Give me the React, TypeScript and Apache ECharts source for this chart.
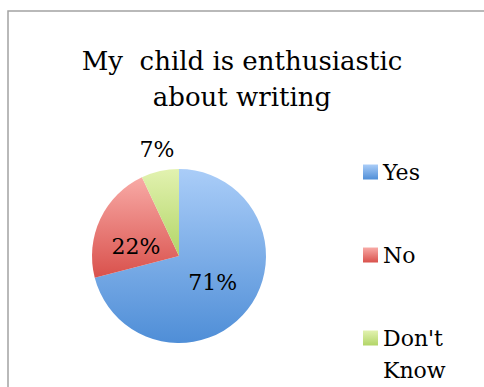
import React, { useEffect, useRef } from "react";
import * as echarts from "echarts";

const titleLines = ["My  child is enthusiastic", "about writing"];
const categories = ["Yes", "No", "Don't Know"];
const values = [71, 22, 7];
const topColors = ["#aacdf8", "#f8aaa6", "#e2f2b0"];
const bottomColors = ["#4f8ed7", "#d9514c", "#b2d567"];

const FONT = "DejaVu Serif";

const legendBase = {
  orient: "vertical",
  left: 358,
  height: 320,
  itemWidth: 15,
  itemHeight: 15,
  itemGap: 51,
  icon: "rect",
  textStyle: { fontFamily: FONT, fontSize: 22, color: "#000", lineHeight: 32 },
};

export default function App() {
  const ref = useRef<HTMLDivElement>(null);
  useEffect(() => {
    if (!ref.current) return;
    const chart = echarts.init(ref.current, null, { renderer: "svg" });
    chart.setOption({
      animation: false,
      backgroundColor: "#ffffff",
      graphic: [
        {
          type: "rect",
          shape: { x: 8, y: 11, width: 520, height: 420 },
          style: { fill: "none", stroke: "#a3a3a3", lineWidth: 1.5 },
          silent: true,
          z: -1,
        },
      ],
      title: {
        text: titleLines.join("\n"),
        left: "center",
        top: 38,
        padding: [5, 0, 5, 11],
        textStyle: {
          fontFamily: FONT,
          fontSize: 26,
          fontWeight: "normal",
          color: "#000",
          lineHeight: 36,
        },
      },
      legend: [
        { ...legendBase, top: 151, data: categories.slice(0, 2) },
        {
          ...legendBase,
          top: 285,
          data: categories.slice(2),
          formatter: (name: string) => "\n" + name.replace(" ", "\n"),
        },
      ],
      series: [
        {
          type: "pie",
          center: [179, 256],
          radius: 87,
          startAngle: 90,
          clockwise: true,
          label: {
            show: true,
            position: "inside",
            formatter: "{c}%",
            fontFamily: FONT,
            fontSize: 22,
            color: "#000",
          },
          labelLine: { show: false },
          labelLayout: (p: any) => {
            if (p.dataIndex === 2) return { dx: -12, dy: -61 };
            if (p.dataIndex === 1) return { dx: -1, dy: 10 };
            return { dx: -3, dy: -2 };
          },
          emphasis: { disabled: true },
          data: categories.map((c, i) => ({
            name: c,
            value: values[i],
            itemStyle: {
              color: new echarts.graphic.LinearGradient(0, 0, 0, 1, [
                { offset: 0, color: topColors[i] },
                { offset: 1, color: bottomColors[i] },
              ]),
            },
          })),
        },
      ],
    });
    return () => chart.dispose();
  }, []);
  return (
    <div
      ref={ref}
      style={{ position: "fixed", left: 0, top: 0, width: 484, height: 387 }}
    />
  );
}
